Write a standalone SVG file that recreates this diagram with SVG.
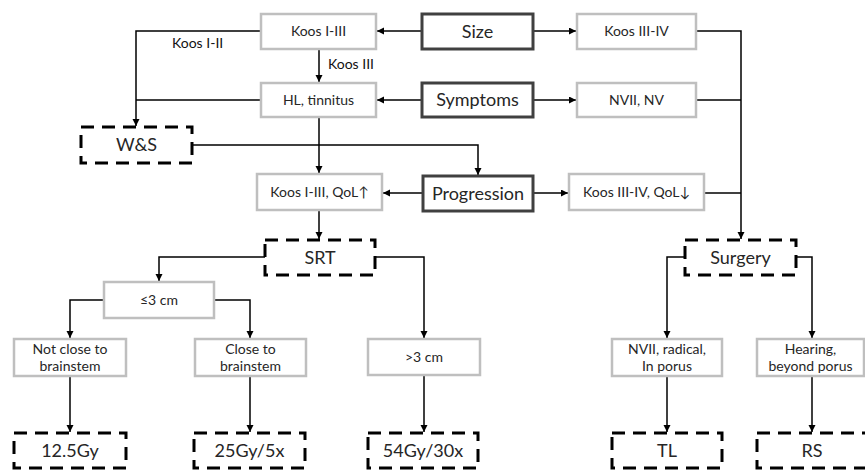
<svg xmlns="http://www.w3.org/2000/svg" width="865" height="470" viewBox="0 0 865 470">
<defs>
<style>
.g{fill:#fff;stroke:#bfbfbf;stroke-width:2.5}
.d{fill:#fff;stroke:#404040;stroke-width:3}
.x{fill:#fff;stroke:#000;stroke-width:3;stroke-dasharray:13 8}
.t{font-family:Lato,"Open Sans",sans-serif;font-size:14px;fill:#262626;text-anchor:middle}
.T{font-family:Lato,"Open Sans",sans-serif;font-size:18px;fill:#262626;text-anchor:middle}
.l{font-family:Lato,"Open Sans",sans-serif;font-size:14px;fill:#111}
.c{fill:none;stroke:#000;stroke-width:1.5}
.a{marker-end:url(#ah)}
</style>
<marker id="ah" markerUnits="userSpaceOnUse" markerWidth="8" markerHeight="8" refX="7" refY="3.5" orient="auto">
<path d="M0,0 L7,3.5 L0,7 z" fill="#000"/>
</marker>
</defs>
<rect width="865" height="470" fill="#fff"/>
<g id="connectors">
<path class="c a" d="M422,31 H377"/>
<path class="c a" d="M533,31 H576"/>
<path class="c a" d="M422,100 H377"/>
<path class="c a" d="M533,100 H576"/>
<path class="c a" d="M423,193 H383"/>
<path class="c a" d="M533,193 H568"/>
<path class="c a" d="M261,31 H136 V126"/>
<path class="c" d="M261,100 H136"/>
<path class="c a" d="M319,49 V82"/>
<path class="c a" d="M319,117 V173"/>
<path class="c a" d="M192,145 H478 V175"/>
<path class="c a" d="M696,31 H741 V239"/>
<path class="c" d="M696,100 H741"/>
<path class="c" d="M704,193 H741"/>
<path class="c a" d="M319,210 V239"/>
<path class="c a" d="M265,257 H159 V281"/>
<path class="c a" d="M375,257 H424 V338"/>
<path class="c a" d="M104,300 H70 V338"/>
<path class="c a" d="M214,300 H250 V338"/>
<path class="c a" d="M70,376 V432"/>
<path class="c a" d="M250,376 V432"/>
<path class="c a" d="M424,375 V432"/>
<path class="c a" d="M685,257 H667 V338"/>
<path class="c a" d="M796,257 H812 V338"/>
<path class="c a" d="M667,376 V432"/>
<path class="c a" d="M812,376 V432"/>
<text class="l" x="172" y="48">Koos I-II</text>
<text class="l" x="328" y="69">Koos III</text>
</g>
<g id="koos13"><rect class="g" x="261" y="14" width="115" height="35"/><text class="t" x="318.5" y="36">Koos I-III</text></g>
<g id="size"><rect class="d" x="422" y="14" width="111" height="35"/><text class="T" x="477.5" y="38">Size</text></g>
<g id="koos34"><rect class="g" x="577" y="14" width="119" height="35"/><text class="t" x="636.5" y="36">Koos III-IV</text></g>
<g id="hl"><rect class="g" x="261" y="83" width="115" height="34"/><text class="t" x="318.5" y="105">HL, tinnitus</text></g>
<g id="symptoms"><rect class="d" x="422" y="83" width="111" height="34"/><text class="T" x="477.5" y="106">Symptoms</text></g>
<g id="nv"><rect class="g" x="577" y="83" width="119" height="34"/><text class="t" x="636.5" y="105">NVII, NV</text></g>
<g id="ws"><rect class="x" x="81" y="127" width="111" height="36"/><text class="T" x="136.5" y="151">W&amp;S</text></g>
<g id="koosq1"><rect class="g" x="257" y="174" width="125" height="36"/><text class="t" x="319.5" y="197">Koos I-III, QoL↑</text></g>
<g id="progression"><rect class="d" x="423" y="176" width="110" height="35"/><text class="T" x="478" y="200">Progression</text></g>
<g id="koosq2"><rect class="g" x="569" y="174" width="135" height="36"/><text class="t" x="636.5" y="197">Koos III-IV, QoL↓</text></g>
<g id="srt"><rect class="x" x="265" y="240" width="110" height="35"/><text class="T" x="320" y="264">SRT</text></g>
<g id="surgery"><rect class="x" x="685" y="240" width="111" height="35"/><text class="T" x="740.5" y="264">Surgery</text></g>
<g id="le3"><rect class="g" x="104" y="282" width="110" height="36"/><text class="t" x="159" y="305">≤3 cm</text></g>
<g id="notclose"><rect class="g" x="14" y="339" width="112" height="37"/><text class="t" x="70" y="354">Not close to</text><text class="t" x="70" y="371">brainstem</text></g>
<g id="close"><rect class="g" x="195" y="339" width="111" height="37"/><text class="t" x="250.5" y="354">Close to</text><text class="t" x="250.5" y="371">brainstem</text></g>
<g id="gt3"><rect class="g" x="368" y="339" width="112" height="36"/><text class="t" x="424" y="362">&gt;3 cm</text></g>
<g id="nvii"><rect class="g" x="612" y="339" width="110" height="37"/><text class="t" x="667" y="354">NVII, radical,</text><text class="t" x="667" y="371">In porus</text></g>
<g id="hearing"><rect class="g" x="757" y="339" width="107" height="37"/><text class="t" x="810.5" y="354">Hearing,</text><text class="t" x="810.5" y="371">beyond porus</text></g>
<g id="g125"><rect class="x" x="14" y="433" width="112" height="35"/><text class="T" x="70" y="457">12.5Gy</text></g>
<g id="g25"><rect class="x" x="194" y="433" width="111" height="35"/><text class="T" x="249.5" y="457">25Gy/5x</text></g>
<g id="g54"><rect class="x" x="368" y="433" width="110" height="35"/><text class="T" x="423" y="457">54Gy/30x</text></g>
<g id="tl"><rect class="x" x="612" y="433" width="110" height="35"/><text class="T" x="667" y="457">TL</text></g>
<g id="rs"><rect class="x" x="757" y="433" width="111" height="35"/><text class="T" x="812" y="457">RS</text></g>
</svg>
